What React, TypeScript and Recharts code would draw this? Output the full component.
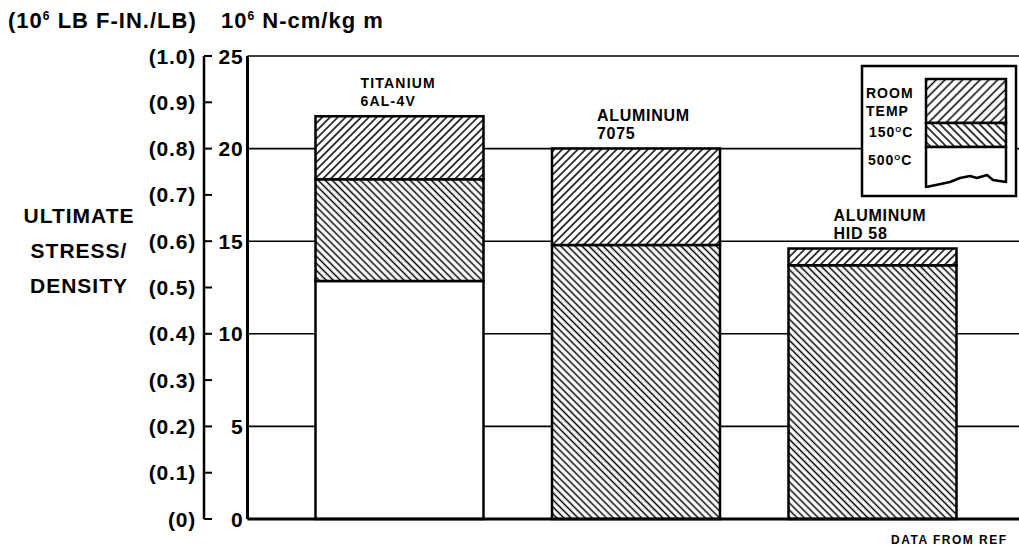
import React from 'react';
import { BarChart, Bar, XAxis, YAxis, CartesianGrid, Legend, LabelList } from 'recharts';

// alloys, left to right
const alloyNames = ['TITANIUM', 'ALUMINUM', 'ALUMINUM'];
const alloyGrades = ['6AL-4V', '7075', 'HID 58'];

// ultimate stress / density, 10^6 N-cm/kg, read at the top of each band
const roomTemp = [21.75, 20.0, 14.6];
const at150C = [18.35, 14.8, 13.7];
const at500C = [12.85, 0, 0];

const stressTicks = [0, 5, 10, 15, 20, 25];
const lbTicks = [0, 0.1, 0.2, 0.3, 0.4, 0.5, 0.6, 0.7, 0.8, 0.9, 1.0];

const sideTitle = ['ULTIMATE', 'STRESS/', 'DENSITY'];

// stacked pieces: 500C at the bottom, then the gain to 150C, then to room temp
const data = alloyNames.map((name, i) => ({
  name,
  grade: alloyGrades[i],
  hot: at500C[i],
  mid: at150C[i] - at500C[i],
  room: roomTemp[i] - at150C[i],
}));

const FONT = '"Liberation Sans", Arial, sans-serif';

// white tile so the grid does not show through the hatching
const hatch = (id: string, angle: number, gap: number) => (
  <pattern id={id} patternUnits="userSpaceOnUse" width={gap} height={10} patternTransform={`rotate(${angle})`}>
    <rect x={0} y={0} width={gap} height={10} fill="#fff" />
    <line x1={gap / 2} y1={0} x2={gap / 2} y2={10} stroke="#000" strokeWidth={1.5} />
  </pattern>
);

const LbTick = (props: any) => {
  const { x, y, payload } = props;
  const v = Number(payload.value);
  const label = v === 0 ? '(0)' : `(${v.toFixed(1)})`;
  return (
    <g>
      <line x1={x} x2={x + 8} y1={y} y2={y} stroke="#000" strokeWidth={2} />
      <text x={x - 8} y={y} dy="0.36em" textAnchor="end" fontFamily={FONT} fontSize={21}
        fontWeight={700} letterSpacing={0.8} fill="#000">{label}</text>
    </g>
  );
};

const StressTick = (props: any) => {
  const { x, y, payload } = props;
  return (
    <text x={x} y={y} dy="0.36em" textAnchor="end" fontFamily={FONT} fontSize={21}
      fontWeight={700} letterSpacing={0.8} fill="#000">{payload.value}</text>
  );
};

const Sup = ({ base, sup, rest, size }: any) => (
  <>
    {base}
    <tspan dy={-size * 0.35} fontSize={size * 0.55}>{sup}</tspan>
    <tspan dy={size * 0.35}>{rest}</tspan>
  </>
);

const lbTitle = () => (
  <g fontFamily={FONT} fontWeight={700} fill="#000">
    <text x={8} y={20} dy="0.36em" fontSize={22} letterSpacing={1}>
      <Sup base="(10" sup="6" rest=" LB F-IN./LB)" size={22} />
    </text>
    {sideTitle.map((t, i) => (
      <text key={t} x={79} y={215 + i * 35} dy="0.36em" textAnchor="middle" fontSize={21} letterSpacing={1}>{t}</text>
    ))}
  </g>
);

const stressTitle = () => (
  <text x={221} y={20} dy="0.36em" fontFamily={FONT} fontWeight={700} fontSize={22} letterSpacing={1} fill="#000">
    <Sup base="10" sup="6" rest=" N-cm/kg m" size={22} />
  </text>
);

const sourceNote = () => (
  <text x={891} y={540} dy="0.36em" fontFamily={FONT} fontWeight={700} fontSize={12} letterSpacing={1.5} fill="#000">
    DATA FROM REF
  </text>
);

const alloyLabel = (props: any) => {
  const { x, y, index, value } = props;
  const size = index === 0 ? 14 : 16;
  return (
    <g fontFamily={FONT} fontWeight={700} fill="#000" fontSize={size} letterSpacing={index === 0 ? 1.2 : 0.7}>
      <text x={x + 45} y={y - 33} dy="0.36em">{value}</text>
      <text x={x + 45} y={y - 15} dy="0.36em">{data[index].grade}</text>
    </g>
  );
};

const legendRows = [
  { lines: ['ROOM', 'TEMP'] },
  { lines: ['150'] },
  { lines: ['500'] },
];

const TempLegend = () => (
  <svg width={160} height={136}>
    <defs>
      {hatch('lgFwd', 45, 6.2)}
      {hatch('lgBack', -45, 5.6)}
    </defs>
    <rect x={2} y={2} width={154} height={130} fill="#fff" stroke="#000" strokeWidth={2.5} />
    <g fontFamily={FONT} fontWeight={700} fontSize={14} letterSpacing={1} fill="#000">
      <text x={6} y={29} dy="0.36em">{legendRows[0].lines[0]}</text>
      <text x={6} y={47} dy="0.36em">{legendRows[0].lines[1]}</text>
      <text x={9} y={68} dy="0.36em"><Sup base={legendRows[1].lines[0]} sup="O" rest="C" size={14} /></text>
      <text x={8} y={96} dy="0.36em"><Sup base={legendRows[2].lines[0]} sup="O" rest="C" size={14} /></text>
    </g>
    <rect x={66} y={15} width={80} height={44} fill="url(#lgFwd)" stroke="#000" strokeWidth={2.5} />
    <rect x={66} y={59} width={80} height={24} fill="url(#lgBack)" stroke="#000" strokeWidth={2.5} />
    <path d="M66,83 L66,123 L76,121 L90,118 L100,114 L110,112 L117,114 L127,111 L133,116 L146,118 L146,83 Z"
      fill="#fff" stroke="#000" strokeWidth={2.5} strokeLinejoin="round" />
  </svg>
);

export default function App() {
  return (
    <div style={{ position: 'fixed', left: 0, top: 0, width: 1019, height: 552, overflow: 'hidden', background: '#fff' }}>
      <BarChart
        width={1030}
        height={552}
        data={data}
        barSize={168}
        margin={{ top: 56, right: 5, left: 144, bottom: 13 }}
      >
        <defs>
          {hatch('hatchFwd', 45, 5.5)}
          {hatch('hatchBack', -45, 5)}
        </defs>
        <CartesianGrid yAxisId="a" vertical={false} stroke="#000" strokeWidth={1.6} />
        <YAxis
          yAxisId="b"
          domain={[0, 1]}
          allowDataOverflow
          ticks={lbTicks}
          width={60}
          tickSize={0}
          tickMargin={0}
          tickLine={false}
          axisLine={{ stroke: '#000', strokeWidth: 2.5 }}
          tick={LbTick}
          label={{ content: lbTitle }}
        />
        <YAxis
          yAxisId="a"
          domain={[0, 25]}
          ticks={stressTicks}
          width={43.5}
          tickSize={0}
          tickMargin={4}
          tickLine={false}
          axisLine={{ stroke: '#000', strokeWidth: 3 }}
          tick={StressTick}
          label={{ content: stressTitle }}
        />
        <XAxis
          dataKey="grade"
          height={20}
          padding={{ left: 34, right: 34 }}
          tick={false}
          tickLine={false}
          axisLine={{ stroke: '#000', strokeWidth: 3 }}
          label={{ content: sourceNote }}
        />
        <Bar yAxisId="a" dataKey="hot" stackId="t" fill="#fff" stroke="#000" strokeWidth={2.5} isAnimationActive={false} />
        <Bar yAxisId="a" dataKey="mid" stackId="t" fill="url(#hatchBack)" stroke="#000" strokeWidth={2.5} isAnimationActive={false} />
        <Bar yAxisId="a" dataKey="room" stackId="t" fill="url(#hatchFwd)" stroke="#000" strokeWidth={2.5} isAnimationActive={false}>
          <LabelList dataKey="name" content={alloyLabel} />
        </Bar>
        <Legend
          layout="horizontal"
          verticalAlign="middle"
          align="center"
          wrapperStyle={{ position: 'absolute', left: 860, top: 64, width: 160, height: 136 }}
          content={TempLegend}
        />
      </BarChart>
    </div>
  );
}
